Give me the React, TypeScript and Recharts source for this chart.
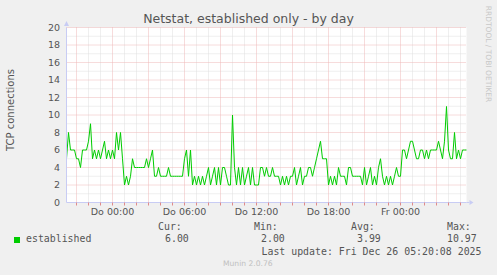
import React from "react";
import { LineChart, Line, XAxis, YAxis, CartesianGrid, ReferenceLine, ReferenceDot } from "recharts";

// minutes relative to Do 00:00, one sample every 10 minutes
const startMinute = -230;
const stepMinutes = 10;

const established = [
  5, 8, 6, 6, 6, 5, 5, 4, 6, 6, 6, 7, 9, 5, 6, 5, 6, 5, 6, 7,
  5, 6, 5, 6, 5, 8, 6, 8, 5, 2, 3, 2, 3, 5, 4, 4, 4, 4, 4, 4,
  5, 4, 5, 6, 3, 3, 4, 3, 3, 3, 3, 4, 3, 3, 3, 3, 3, 3, 3, 5,
  6, 3, 6, 2, 3, 2, 3, 2, 3, 2, 3, 4, 2, 3, 4, 2, 4, 2, 4, 4,
  3, 2, 2, 10, 4, 2, 4, 2, 4, 2, 3, 4, 2, 4, 2, 2, 2, 4, 4, 3,
  4, 3, 3, 4, 3, 3, 3, 2, 3, 2, 3, 2, 3, 3, 4, 2, 3, 4, 2, 3,
  3, 4, 4, 3, 4, 5, 6, 7, 5, 5, 5, 2, 3, 2, 3, 2, 4, 3, 3, 3,
  2, 4, 4, 3, 3, 3, 3, 3, 2, 4, 2, 3, 4, 2, 3, 2, 4, 5, 3, 2,
  3, 2, 3, 2, 3, 4, 3, 3, 6, 6, 5, 6, 7, 7, 6, 5, 5, 6, 6, 5,
  6, 5, 6, 6, 6, 6, 7, 6, 5, 7, 10.97, 6, 5, 5, 8, 5, 6, 5, 6, 6,
  6,
];

const xDomain = [-230, 1770];
const hourTicks = [
  -180, -120, -60, 0, 60, 120, 180, 240, 300, 360, 420, 480, 540, 600, 660, 720, 780,
  840, 900, 960, 1020, 1080, 1140, 1200, 1260, 1320, 1380, 1440, 1500, 1560, 1620, 1680, 1740,
];
const majorHours = [-180, 0, 180, 360, 540, 720, 900, 1080, 1260, 1440, 1620];
const labelTicks = [0, 360, 720, 1080, 1440];
const labelTexts = ["Do 00:00", "Do 06:00", "Do 12:00", "Do 18:00", "Fr 00:00"];

const yTicks = [0, 2, 4, 6, 8, 10, 12, 14, 16, 18, 20];
const yMinor = [1, 3, 5, 7, 9, 11, 13, 15, 17, 19];

const statHeads = ["Cur:", "Min:", "Avg:", "Max:"];
const statValues = ["6.00", "2.00", "3.99", "10.97"];

const chartData = established.map((v, i) => ({ t: startMinute + i * stepMinutes, v }));

const axisColor = "#c8ccf4";
const minorGrid = "#dedede";
const majorGrid = "#efb8b8";

const mono = "'DejaVu Sans Mono', monospace";
const sans = "'DejaVu Sans', sans-serif";

const XArrow = ({ cx, cy }: any) => (
  <g>
    <line x1={cx} y1={cy} x2={cx + 3} y2={cy} stroke={axisColor} />
    <polygon points={`${cx + 3},${cy - 2.5} ${cx + 7},${cy} ${cx + 3},${cy + 2.5}`} fill={axisColor} />
  </g>
);

const YArrow = ({ cx, cy }: any) => (
  <polygon points={`${cx - 2.5},${cy - 1.5} ${cx},${cy - 6.5} ${cx + 2.5},${cy - 1.5}`} fill={axisColor} />
);

const abs = (left: number, top: number, extra: any = {}) => ({
  position: "absolute" as const,
  left,
  top,
  whiteSpace: "nowrap" as const,
  ...extra,
});

export default function App() {
  const statX = [158, 254, 351, 447];
  const valX = [165, 261, 357, 447];
  return (
    <div style={{ position: "relative", width: 497, height: 275, background: "#f0f0f0", fontFamily: sans, overflow: "hidden" }}>
      <style>{"body{margin:0}"}</style>
      <div style={abs(0, 11, { width: 497, textAlign: "center", fontSize: 12.5, lineHeight: "15px", color: "#555" })}>
        Netstat, established only - by day
      </div>
      <div
        style={abs(11, 110, {
          fontSize: 10,
          lineHeight: "12px",
          color: "#555",
          transform: "translate(-50%, -50%) rotate(-90deg)",
        })}
      >
        TCP connections
      </div>
      <div
        style={abs(488, 54, {
          fontSize: 7.5,
          lineHeight: "9px",
          color: "#c8c8c8",
          transform: "translate(-50%, -50%) rotate(90deg)",
        })}
      >
        RRDTOOL / TOBI OETIKER
      </div>

      <div style={{ position: "absolute", left: 0, top: 0 }}>
        <LineChart width={497} height={275} data={chartData} margin={{ top: 27.5, right: 30.5, bottom: 52.5, left: 0.5 }}>
          <CartesianGrid fill="#ffffff" horizontal={false} vertical={false} />
          {yMinor.map((y) => (
            <ReferenceLine key={"ym" + y} y={y} stroke={minorGrid} strokeDasharray="1 1" />
          ))}
          {hourTicks.filter((h) => !majorHours.includes(h)).map((h) => (
            <ReferenceLine key={"xm" + h} x={h} stroke={minorGrid} strokeDasharray="1 1" />
          ))}
          {yTicks.filter((y) => y > 0).map((y) => (
            <ReferenceLine key={"yM" + y} y={y} stroke={majorGrid} strokeDasharray="1 1" />
          ))}
          {majorHours.map((h) => (
            <ReferenceLine key={"xM" + h} x={h} stroke={majorGrid} strokeDasharray="1 1" />
          ))}
          <XAxis
            dataKey="t"
            type="number"
            domain={xDomain}
            ticks={hourTicks}
            interval={0}
            height={20}
            tickSize={3}
            tickMargin={3}
            axisLine={{ stroke: axisColor }}
            tickLine={{ stroke: "#e08a8a" }}
            tick={{ fontSize: 9.5, fill: "#555", fontFamily: sans }}
            tickFormatter={(t: number) => {
              const k = labelTicks.indexOf(t);
              return k >= 0 ? labelTexts[k] : "";
            }}
          />
          <YAxis
            domain={[0, 20]}
            ticks={yTicks}
            interval={0}
            width={66}
            tickSize={4}
            tickMargin={2.5}
            axisLine={{ stroke: axisColor }}
            tickLine={false}
            tick={{ fontSize: 9.5, fill: "#555", fontFamily: sans }}
          />
          <Line
            type="linear"
            dataKey="v"
            stroke="#00cc00"
            strokeWidth={1}
            dot={false}
            isAnimationActive={false}
          />
          <ReferenceDot x={xDomain[1]} y={0} ifOverflow="visible" shape={XArrow} />
          <ReferenceDot x={xDomain[0]} y={20} ifOverflow="visible" shape={YArrow} />
        </LineChart>
      </div>

      <div style={abs(14, 237, { width: 6, height: 6, background: "#00cc00" })} />
      <div style={abs(26, 233, { fontFamily: mono, fontSize: 9.9, lineHeight: "12px", color: "#555" })}>established</div>
      {statHeads.map((s, i) => (
        <div key={s} style={abs(statX[i], 221, { fontFamily: mono, fontSize: 9.9, lineHeight: "12px", color: "#555" })}>
          {s}
        </div>
      ))}
      {statValues.map((s, i) => (
        <div key={s} style={abs(valX[i], 233, { fontFamily: mono, fontSize: 9.9, lineHeight: "12px", color: "#555" })}>
          {s}
        </div>
      ))}
      <div style={abs(261.5, 245.5, { fontFamily: mono, fontSize: 9.9, lineHeight: "12px", color: "#555" })}>
        Last update: Fri Dec 26 05:20:08 2025
      </div>
      <div style={abs(223, 259, { fontSize: 7.6, lineHeight: "10px", color: "#c0c0c0" })}>Munin 2.0.76</div>
    </div>
  );
}
